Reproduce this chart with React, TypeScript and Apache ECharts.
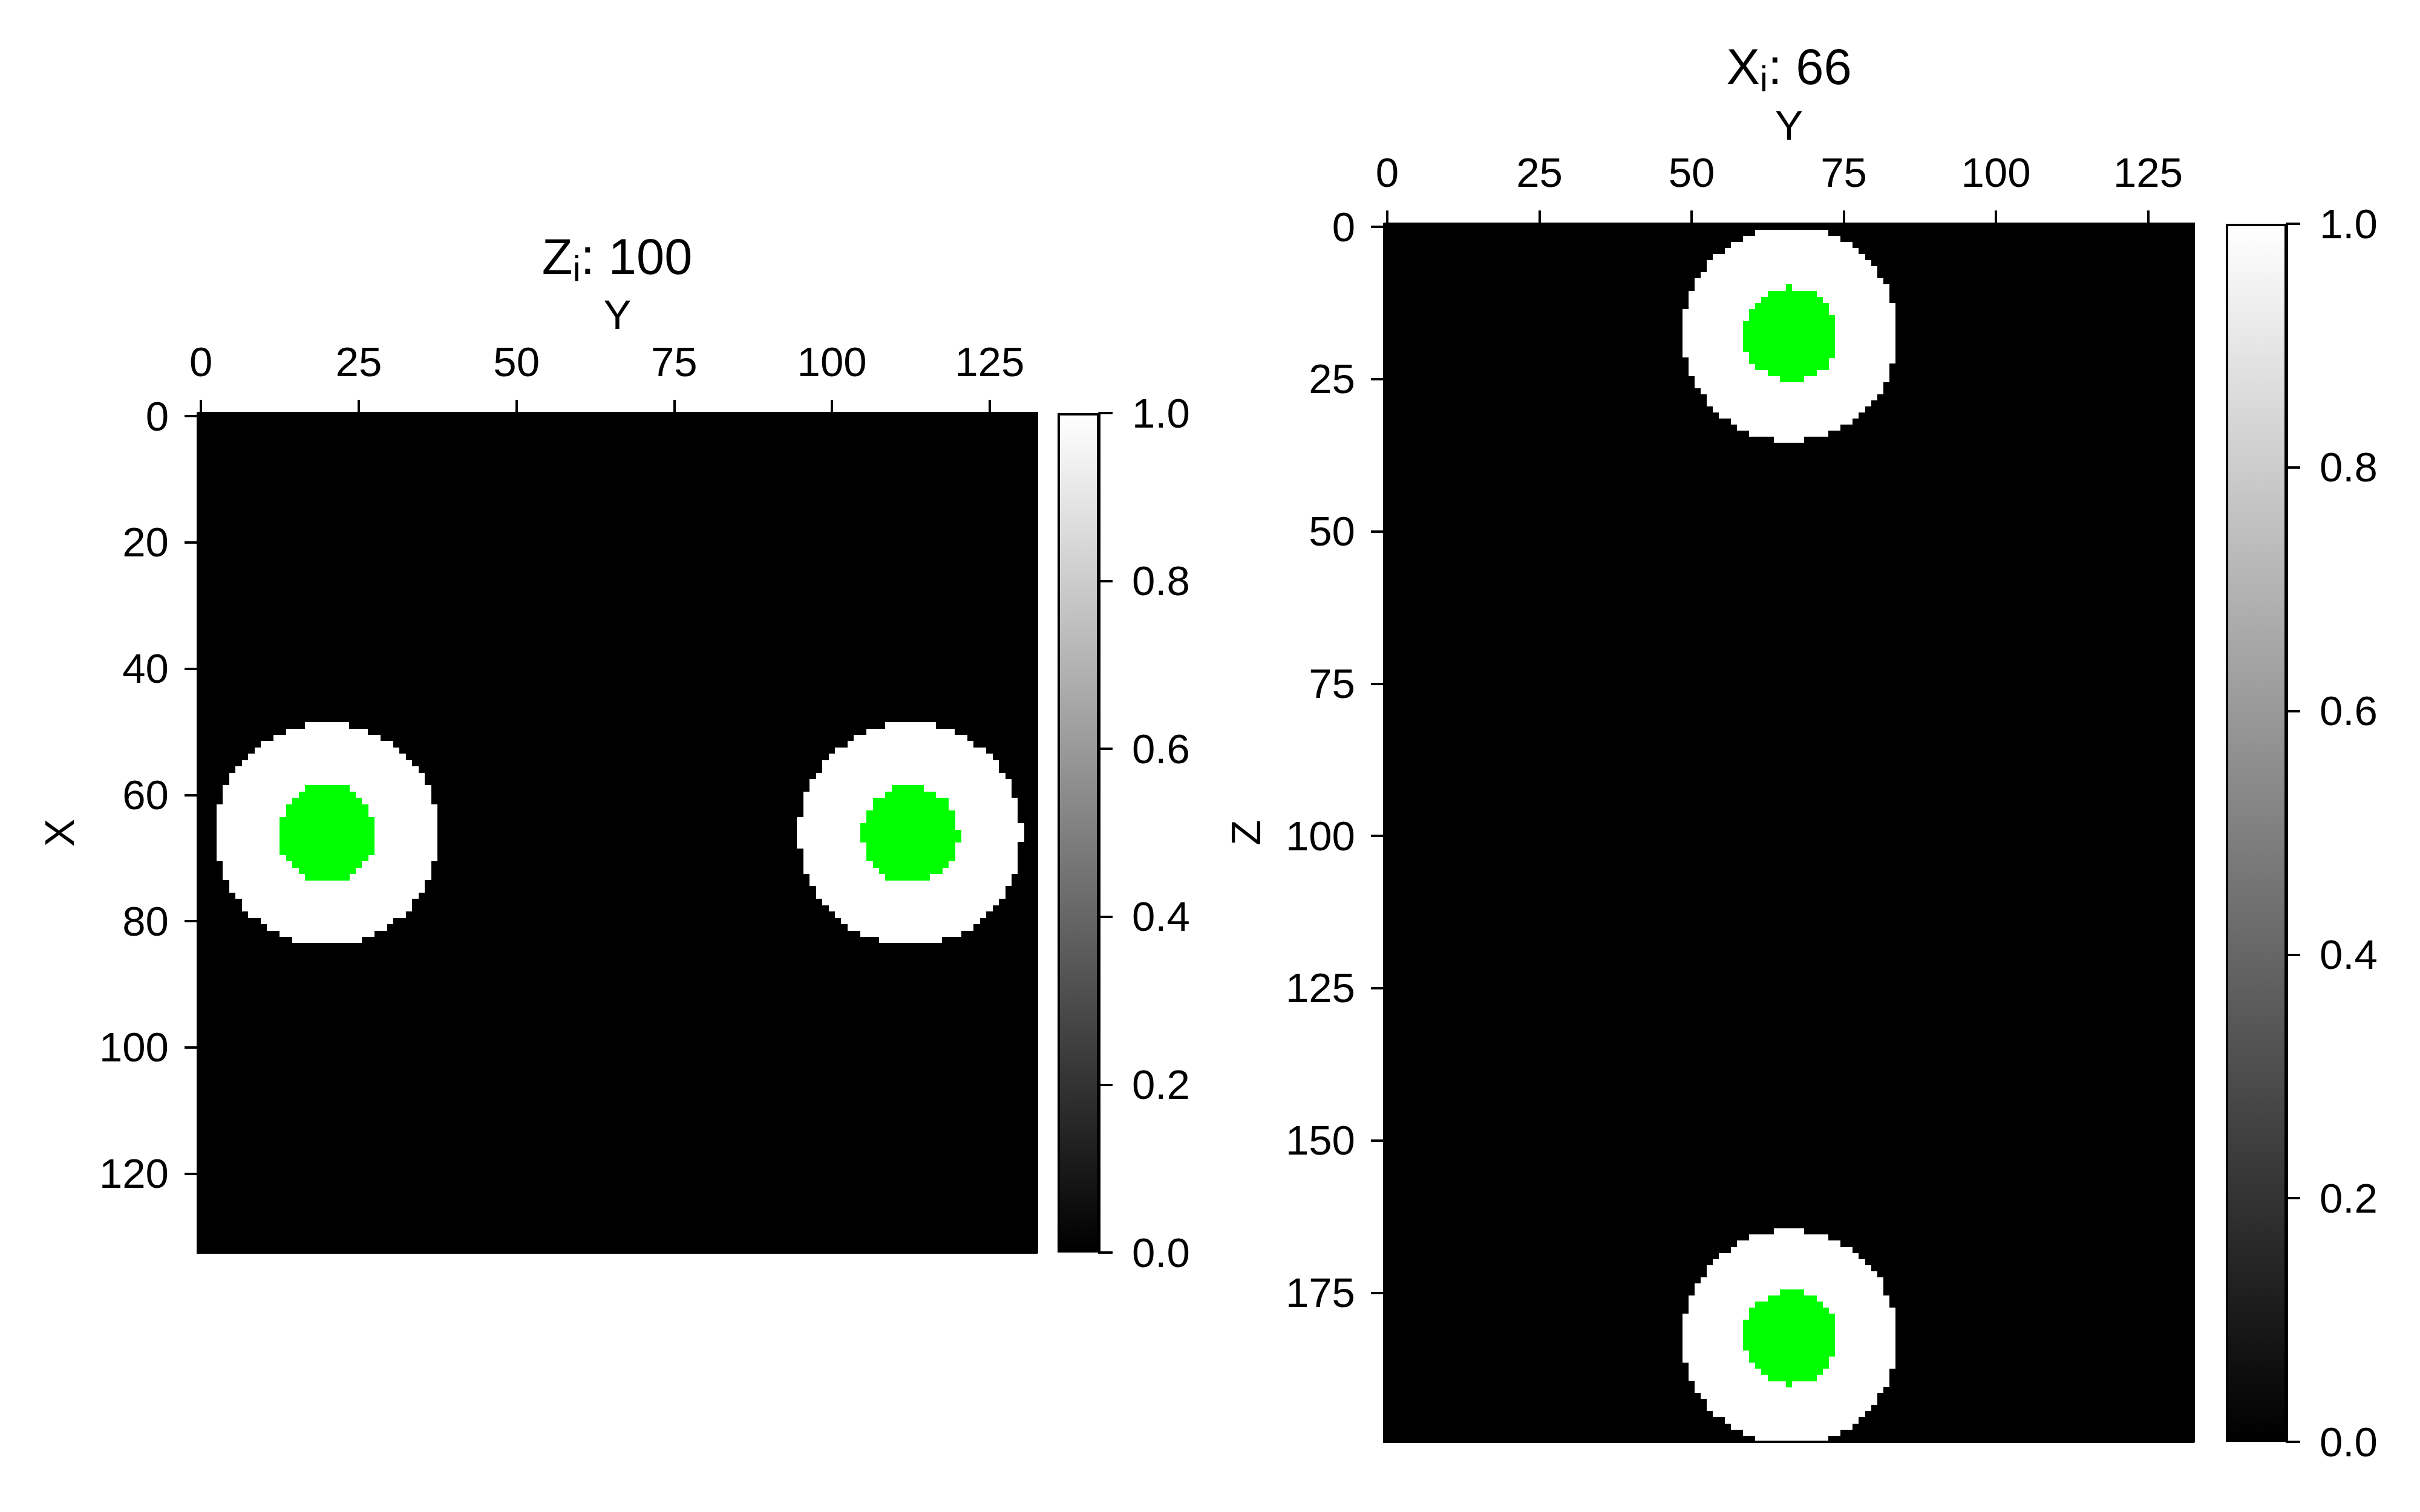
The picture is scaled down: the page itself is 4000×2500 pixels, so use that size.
import React, { useEffect, useRef } from "react";
import * as echarts from "echarts";

// ---- dimensions of the volume ----
const NX = 133; // X size
const NY = 133; // Y size
const NZ = 200; // Z size
const sliceZ = 100;
const sliceX = 66;

// ---- slice Z = 100 (rows = X, cols = Y) ----
const zDiscA_row0 = 49;
const zDiscA_whiteFrom = [17,14,12,10,9,8,7,6,5,5,4,4,4,3,3,3,3,3,3,3,3,3,4,4,4,5,5,6,7,7,8,10,11,13,15];
const zDiscA_whiteTo = [23,26,28,30,31,32,33,34,35,35,36,36,36,37,37,37,37,37,37,37,37,37,36,36,36,35,35,34,33,33,32,30,29,27,25];
const zDiscA_green0 = 59;
const zDiscA_greenFrom = [17,16,15,14,14,13,13,13,13,13,13,14,15,16,17];
const zDiscA_greenTo = [23,24,25,26,26,27,27,27,27,27,27,26,25,24,23];

const zDiscB_row0 = 49;
const zDiscB_whiteFrom = [109,106,104,103,101,100,99,99,98,97,97,96,96,96,96,95,95,95,95,95,96,96,96,96,97,97,98,98,99,100,101,102,103,105,108];
const zDiscB_whiteTo = [116,119,121,122,124,125,126,126,127,128,128,128,129,129,129,129,130,130,130,129,129,129,129,129,128,128,127,127,126,125,124,123,122,120,117];
const zDiscB_green0 = 59;
const zDiscB_greenFrom = [110,109,107,107,106,106,105,105,105,106,106,106,107,108,109];
const zDiscB_greenTo = [114,116,118,118,119,119,119,120,120,119,119,119,118,117,115];

// ---- slice X = 66 (rows = Z, cols = Y) ----
const xDiscC_row0 = 1;
const xDiscC_whiteFrom = [61,59,57,56,54,53,53,52,51,51,50,50,50,49,49,49,49,49,49,49,49,50,50,50,51,51,52,53,53,54,55,57,58,60,64];
const xDiscC_whiteTo = [72,74,76,77,78,79,80,80,81,82,82,82,83,83,83,83,83,83,83,83,83,83,82,82,82,81,81,80,79,78,77,76,74,72,68];
const xDiscC_green0 = 10;
const xDiscC_greenFrom = [66,63,62,61,60,60,59,59,59,59,59,60,60,61,63,65];
const xDiscC_greenTo = [66,70,71,72,72,73,73,73,73,73,73,73,72,72,70,68];

const xDiscD_row0 = 165;
const xDiscD_whiteFrom = [64,60,58,57,55,54,53,53,52,51,51,50,50,50,49,49,49,49,49,49,49,49,50,50,50,51,51,52,53,53,54,56,57,59,61];
const xDiscD_whiteTo = [68,72,74,76,77,78,79,80,81,81,81,82,82,83,83,83,83,83,83,83,83,83,83,82,82,82,81,80,80,79,78,77,76,74,72];
const xDiscD_green0 = 175;
const xDiscD_greenFrom = [65,63,61,60,60,59,59,59,59,59,60,60,61,62,63,66];
const xDiscD_greenTo = [68,70,71,72,73,73,73,73,73,73,73,72,72,71,70,66];

// ---- ticks ----
const yTickStep = 25;
const xTickStep = 20;
const zTickStep = 25;
const colorbarTicks = [0, 0.2, 0.4, 0.6, 0.8, 1.0];
const valueRange = [0, 1];
const greenColor = "#00ff00";

type Span = { row0: number; from: number[]; to: number[] };

function buildSlice(nRows: number, nCols: number, white: Span[]) {
  const mask: number[][] = [];
  for (let r = 0; r < nRows; r++) mask.push(new Array(nCols).fill(0));
  white.forEach((s) => {
    s.from.forEach((f, i) => {
      for (let c = f; c <= s.to[i]; c++) mask[s.row0 + i][c] = 1;
    });
  });
  const data: number[][] = [];
  for (let r = 0; r < nRows; r++) for (let c = 0; c < nCols; c++) data.push([c, r, mask[r][c]]);
  return data;
}
function buildGreen(spans: Span[]) {
  const data: number[][] = [];
  spans.forEach((s) => {
    s.from.forEach((f, i) => {
      for (let c = f; c <= s.to[i]; c++) data.push([c, s.row0 + i, 1]);
    });
  });
  return data;
}

const FONT = "'Liberation Sans', Arial, Helvetica, sans-serif";
const FS = 69;
const TITLE_FS = 83;

export default function App() {
  const ref = useRef<HTMLDivElement>(null);
  useEffect(() => {
    document.body.style.margin = "0";
    if (!ref.current) return;
    const chart = echarts.init(ref.current, undefined, { renderer: "svg" });

    const leftData = buildSlice(NX, NY, [
      { row0: zDiscA_row0, from: zDiscA_whiteFrom, to: zDiscA_whiteTo },
      { row0: zDiscB_row0, from: zDiscB_whiteFrom, to: zDiscB_whiteTo },
    ]);
    const leftGreen = buildGreen([
      { row0: zDiscA_green0, from: zDiscA_greenFrom, to: zDiscA_greenTo },
      { row0: zDiscB_green0, from: zDiscB_greenFrom, to: zDiscB_greenTo },
    ]);
    const rightData = buildSlice(NZ, NY, [
      { row0: xDiscC_row0, from: xDiscC_whiteFrom, to: xDiscC_whiteTo },
      { row0: xDiscD_row0, from: xDiscD_whiteFrom, to: xDiscD_whiteTo },
    ]);
    const rightGreen = buildGreen([
      { row0: xDiscC_green0, from: xDiscC_greenFrom, to: xDiscC_greenTo },
      { row0: xDiscD_green0, from: xDiscD_greenFrom, to: xDiscD_greenTo },
    ]);

    const yCats = Array.from({ length: NY }, (_, i) => String(i));
    const xCats = Array.from({ length: NX }, (_, i) => String(i));
    const zCats = Array.from({ length: NZ }, (_, i) => String(i));

    const lineStyle = { color: "#000", width: 4 };
    const labelStyle = { fontFamily: FONT, fontSize: FS, color: "#000" };
    const nameStyle = { fontFamily: FONT, fontSize: FS, color: "#000" };
    const tick = (step: number) => ({
      show: true,
      alignWithLabel: true,
      interval: (i: number) => i % step === 0,
      length: 22,
      inside: false,
      lineStyle,
    });
    const lab = (step: number, margin: number) => ({
      show: true,
      interval: (i: number) => i % step === 0,
      margin,
      hideOverlap: false,
      ...labelStyle,
    });
    const frameAxis = (grid: number, data: string[], position: string, inverse = false) => ({
      type: "category",
      gridIndex: grid,
      data,
      position,
      inverse,
      z: 5,
      axisLine: { show: true, onZero: false, lineStyle },
      axisTick: { show: false },
      axisLabel: { show: false },
      splitLine: { show: false },
    });

    const cbarGradient = new echarts.graphic.LinearGradient(0, 0, 0, 1, [
      { offset: 0, color: "#ffffff" },
      { offset: 1, color: "#000000" },
    ]);
    const cbarY = (grid: number) => ({
      type: "value",
      gridIndex: grid,
      position: "right",
      min: colorbarTicks[0],
      max: colorbarTicks[colorbarTicks.length - 1],
      interval: colorbarTicks[1] - colorbarTicks[0],
      z: 5,
      axisLine: { show: true, lineStyle },
      axisTick: { show: true, length: 22, inside: false, lineStyle },
      axisLabel: { show: true, margin: 54, formatter: (v: number) => v.toFixed(1), ...labelStyle },
      splitLine: { show: false },
    });
    const cbarX = (grid: number) => ({
      type: "category",
      gridIndex: grid,
      data: ["cb"],
      show: false,
      boundaryGap: true,
    });

    const option: any = {
      animation: false,
      backgroundColor: "#ffffff",
      grid: [
        { left: 327, top: 683, width: 1387, height: 1388, show: true, backgroundColor: "#000000", borderWidth: 0 },
        { left: 1748, top: 683, width: 69, height: 1388 },
        { left: 2288, top: 370, width: 1338, height: 2014, show: true, backgroundColor: "#000000", borderWidth: 0 },
        { left: 3679, top: 370, width: 101, height: 2014 },
      ],
      xAxis: [
        {
          type: "category",
          gridIndex: 0,
          data: yCats,
          position: "top",
          z: 5,
          name: "Y",
          nameLocation: "middle",
          nameGap: 128,
          nameTextStyle: nameStyle,
          axisLine: { show: true, onZero: false, lineStyle },
          axisTick: tick(yTickStep),
          axisLabel: lab(yTickStep, 50),
          splitLine: { show: false },
        },
        frameAxis(0, yCats, "bottom"),
        cbarX(1),
        {
          type: "category",
          gridIndex: 2,
          data: yCats,
          position: "top",
          z: 5,
          name: "Y",
          nameLocation: "middle",
          nameGap: 128,
          nameTextStyle: nameStyle,
          axisLine: { show: true, onZero: false, lineStyle },
          axisTick: tick(yTickStep),
          axisLabel: lab(yTickStep, 50),
          splitLine: { show: false },
        },
        frameAxis(2, yCats, "bottom"),
        cbarX(3),
      ],
      yAxis: [
        {
          type: "category",
          gridIndex: 0,
          data: xCats,
          inverse: true,
          position: "left",
          z: 5,
          name: "X",
          nameLocation: "middle",
          nameRotate: 90,
          nameGap: 194,
          nameTextStyle: nameStyle,
          axisLine: { show: true, onZero: false, lineStyle },
          axisTick: tick(xTickStep),
          axisLabel: lab(xTickStep, 48),
          splitLine: { show: false },
        },
        frameAxis(0, xCats, "right", true),
        cbarY(1),
        {
          type: "category",
          gridIndex: 2,
          data: zCats,
          inverse: true,
          position: "left",
          z: 5,
          name: "Z",
          nameLocation: "middle",
          nameRotate: 90,
          nameGap: 194,
          nameTextStyle: nameStyle,
          axisLine: { show: true, onZero: false, lineStyle },
          axisTick: tick(zTickStep),
          axisLabel: lab(zTickStep, 48),
          splitLine: { show: false },
        },
        frameAxis(2, zCats, "right", true),
        cbarY(3),
      ],
      visualMap: [
        {
          type: "continuous",
          show: false,
          min: valueRange[0],
          max: valueRange[1],
          seriesIndex: [0, 3],
          inRange: { color: ["#000000", "#ffffff"] },
        },
        {
          type: "continuous",
          show: false,
          min: valueRange[0],
          max: valueRange[1],
          seriesIndex: [1, 4],
          inRange: { color: [greenColor, greenColor] },
        },
      ],
      series: [
        {
          type: "heatmap",
          xAxisIndex: 0,
          yAxisIndex: 0,
          data: leftData,
          progressive: 0,
          silent: true,
          emphasis: { disabled: true },
        },
        {
          type: "heatmap",
          xAxisIndex: 0,
          yAxisIndex: 0,
          data: leftGreen,
          progressive: 0,
          silent: true,
          emphasis: { disabled: true },
        },
        {
          type: "bar",
          xAxisIndex: 2,
          yAxisIndex: 2,
          data: [valueRange[1]],
          barWidth: "100%",
          silent: true,
          itemStyle: { color: cbarGradient, borderColor: "#000", borderWidth: 4 },
        },
        {
          type: "heatmap",
          xAxisIndex: 3,
          yAxisIndex: 3,
          data: rightData,
          progressive: 0,
          silent: true,
          emphasis: { disabled: true },
        },
        {
          type: "heatmap",
          xAxisIndex: 3,
          yAxisIndex: 3,
          data: rightGreen,
          progressive: 0,
          silent: true,
          emphasis: { disabled: true },
        },
        {
          type: "bar",
          xAxisIndex: 5,
          yAxisIndex: 5,
          data: [valueRange[1]],
          barWidth: "100%",
          silent: true,
          itemStyle: { color: cbarGradient, borderColor: "#000", borderWidth: 4 },
        },
      ],
      graphic: [
        {
          type: "text",
          x: 1020,
          y: 474,
          style: {
            text: "{n|Z}{s|i}{n|: " + sliceZ + "}",
            align: "center",
            verticalAlign: "bottom",
            rich: {
              n: { fontFamily: FONT, fontSize: TITLE_FS, lineHeight: 100, fill: "#000" },
              s: { fontFamily: FONT, fontSize: 60, lineHeight: 60, verticalAlign: "bottom", fill: "#000" },
            },
          },
        },
        {
          type: "text",
          x: 2957,
          y: 160,
          style: {
            text: "{n|X}{s|i}{n|: " + sliceX + "}",
            align: "center",
            verticalAlign: "bottom",
            rich: {
              n: { fontFamily: FONT, fontSize: TITLE_FS, lineHeight: 100, fill: "#000" },
              s: { fontFamily: FONT, fontSize: 60, lineHeight: 60, verticalAlign: "bottom", fill: "#000" },
            },
          },
        },
      ],
    };
    chart.setOption(option);
    return () => chart.dispose();
  }, []);
  return (
    <div>
      <style>{"svg path { shape-rendering: crispEdges; }"}</style>
      <div ref={ref} style={{ width: 4000, height: 2500 }} />
    </div>
  );
}
